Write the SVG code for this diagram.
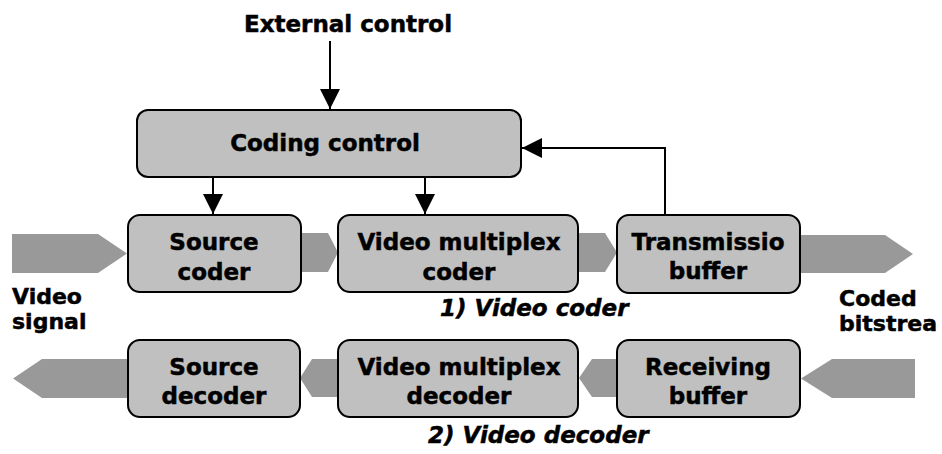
<svg xmlns="http://www.w3.org/2000/svg" width="942" height="454" viewBox="0 0 942 454">
<defs>
<style>
.box{fill:#c0c0c0;stroke:#000;stroke-width:2}
.flow{fill:#999999;stroke:none}
.t{font-family:"DejaVu Sans",sans-serif;font-weight:bold;font-size:23px;fill:#000;stroke:#000;stroke-width:0.5;text-anchor:middle}
.lbl{font-family:"DejaVu Sans",sans-serif;font-weight:bold;font-size:22px;fill:#000;stroke:#000;stroke-width:0.5}
.cap{font-family:"DejaVu Sans",sans-serif;font-weight:bold;font-style:italic;font-size:23px;fill:#000;stroke:#000;stroke-width:0.5}
.ln{fill:none;stroke:#000;stroke-width:2}
</style>
<marker id="ah" markerUnits="userSpaceOnUse" markerWidth="20" markerHeight="20" viewBox="0 0 20 20" refX="20" refY="10" orient="auto">
<path d="M0,0 L20,10 L0,20 Z" fill="#000"/>
</marker>
</defs>
<rect width="942" height="454" fill="#fff"/>

<g id="connectors">
<line class="ln" x1="330" y1="41" x2="330" y2="109" marker-end="url(#ah)"/>
<line class="ln" x1="213" y1="177" x2="213" y2="214" marker-end="url(#ah)"/>
<line class="ln" x1="425" y1="177" x2="425" y2="214" marker-end="url(#ah)"/>
<polyline class="ln" points="665,215 665,148 522,148" marker-end="url(#ah)"/>
<polygon class="flow" points="12,234 98,234 127,253.5 98,273 12,273"/>
<polygon class="flow" points="301,233 328,233 338,252.5 328,272 301,272"/>
<polygon class="flow" points="578,233 605,233 617,252.5 605,272 578,272"/>
<polygon class="flow" points="800,235 885,235 913,254 885,273 800,273"/>
<polygon class="flow" points="128,359 42,359 13,378.5 42,398 128,398"/>
<polygon class="flow" points="338,359 312,359 300,378 312,397 338,397"/>
<polygon class="flow" points="617,359 592,359 579,378 592,397 617,397"/>
<polygon class="flow" points="915,359 832,359 801,378.5 832,398 915,398"/>
</g>

<g id="external-control"><text class="t" x="348" y="32">External control</text></g>

<g id="coding-control">
<rect class="box" x="137" y="110" width="384" height="67" rx="11"/>
<text class="t" x="325" y="151">Coding control</text>
</g>

<g id="source-coder">
<rect class="box" x="128" y="215" width="173" height="77" rx="12"/>
<text class="t" x="214" y="250">Source</text>
<text class="t" x="214" y="280">coder</text>
</g>

<g id="video-multiplex-coder">
<rect class="box" x="338" y="215" width="240" height="77" rx="12"/>
<text class="t" x="459" y="250">Video multiplex</text>
<text class="t" x="459" y="280">coder</text>
</g>

<g id="transmission-buffer">
<rect class="box" x="617" y="215" width="183" height="78" rx="12"/>
<text class="t" x="708" y="250">Transmissio</text>
<text class="t" x="708" y="279">buffer</text>
</g>

<g id="video-signal">
<text class="lbl" x="12" y="304">Video</text>
<text class="lbl" x="12" y="329">signal</text>
</g>

<g id="coded-bitstream">
<text class="lbl" x="839" y="306">Coded</text>
<text class="lbl" x="839" y="331">bitstrea</text>
</g>

<g id="video-coder-caption"><text class="cap" x="440" y="316">1) Video coder</text></g>

<g id="source-decoder">
<rect class="box" x="128" y="340" width="172" height="77" rx="12"/>
<text class="t" x="214" y="375">Source</text>
<text class="t" x="214" y="404">decoder</text>
</g>

<g id="video-multiplex-decoder">
<rect class="box" x="338" y="340" width="240" height="77" rx="12"/>
<text class="t" x="459" y="375">Video multiplex</text>
<text class="t" x="459" y="404">decoder</text>
</g>

<g id="receiving-buffer">
<rect class="box" x="617" y="340" width="183" height="77" rx="12"/>
<text class="t" x="708" y="375">Receiving</text>
<text class="t" x="708" y="404">buffer</text>
</g>

<g id="video-decoder-caption"><text class="cap" x="428" y="443">2) Video decoder</text></g>
</svg>
